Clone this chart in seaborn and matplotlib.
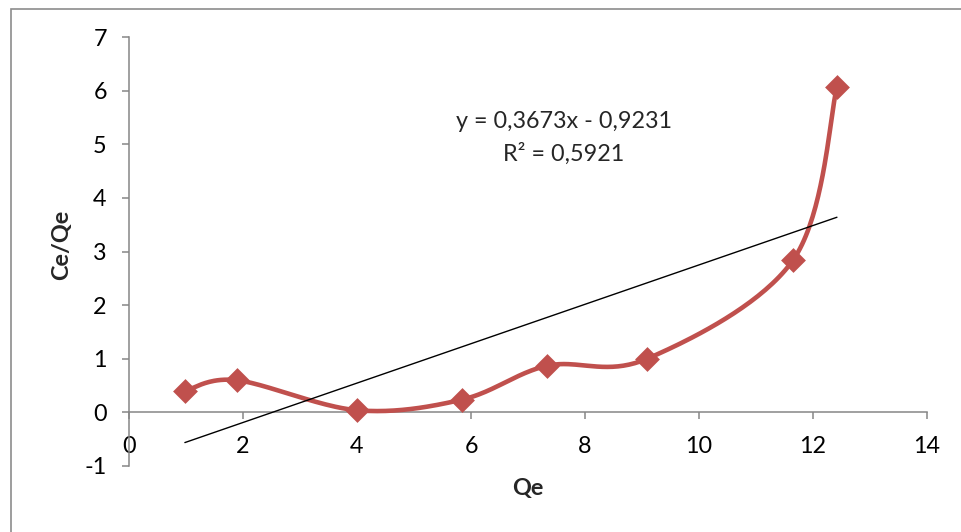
import numpy as np
import pandas as pd
import matplotlib
matplotlib.use("Agg")
import matplotlib.pyplot as plt
from matplotlib.patches import Rectangle
import seaborn as sns

# ---- data ----
qe = [0.98, 1.89, 4.00, 5.85, 7.34, 9.09, 11.65, 12.42]
ce_qe = [0.40, 0.60, 0.04, 0.24, 0.87, 1.00, 2.84, 6.07]
trend_slope = 0.3673
trend_intercept = -0.9231
r_squared = 0.5921
x_ticks = [0, 2, 4, 6, 8, 10, 12, 14]
y_ticks = [-1, 0, 1, 2, 3, 4, 5, 6, 7]

RED = "#C0504D"
AXIS_GREY = "#868686"

sns.set_theme(style="white")
plt.rcParams["font.family"] = ["Lato", "DejaVu Sans"]


def excel_smooth(xs, ys, n=40):
    """Excel-like smoothed line: cubic Bezier segments with Catmull-Rom tangents."""
    p = np.column_stack([xs, ys]).astype(float)
    ext = np.vstack([p[0], p, p[-1]])
    out = []
    t = np.linspace(0, 1, n)[:, None]
    for i in range(len(p) - 1):
        p0, p1 = ext[i + 1], ext[i + 2]
        c1 = p0 + (ext[i + 2] - ext[i]) / 6.0
        c2 = p1 - (ext[i + 3] - ext[i + 1]) / 6.0
        seg = ((1 - t) ** 3) * p0 + 3 * ((1 - t) ** 2) * t * c1 + 3 * (1 - t) * t ** 2 * c2 + t ** 3 * p1
        out.append(seg if i == 0 else seg[1:])
    s = np.vstack(out)
    return s[:, 0], s[:, 1]


W, H = 961, 532
fig = plt.figure(figsize=(W / 100, H / 100), dpi=100)
fig.patch.set_facecolor("white")
x0, x1 = 129, 927
ytop, ybot = 37, 466
ax = fig.add_axes([x0 / W, 1 - ybot / H, (x1 - x0) / W, (ybot - ytop) / H])
ax.set_facecolor("none")

df = pd.DataFrame({"Qe": qe, "CeQe": ce_qe})
sx, sy = excel_smooth(df["Qe"].values, df["CeQe"].values)
smooth = pd.DataFrame({"Qe": sx, "CeQe": sy})

# trend line over data range
tx = np.array([min(qe), max(qe)])
trend = pd.DataFrame({"Qe": tx, "CeQe": trend_slope * tx + trend_intercept})

sns.lineplot(data=smooth, x="Qe", y="CeQe", sort=False, ax=ax, color=RED,
             linewidth=3.3, estimator=None, zorder=3)
sns.lineplot(data=trend, x="Qe", y="CeQe", sort=False, ax=ax, color="black",
             linewidth=1.0, estimator=None, zorder=4)
sns.scatterplot(data=df, x="Qe", y="CeQe", ax=ax, marker="D", s=160,
                color=RED, edgecolor=RED, linewidth=0, zorder=5)

ax.set_xlim(0, 14)
ax.set_ylim(-1, 7)
ax.set_xticks(x_ticks)
ax.set_yticks(y_ticks)
ax.set_xticklabels([str(v) for v in x_ticks])
ax.set_yticklabels([str(v) for v in y_ticks])

for side in ["top", "right"]:
    ax.spines[side].set_visible(False)
ax.spines["bottom"].set_position(("data", 0))
for side in ["left", "bottom"]:
    ax.spines[side].set_color(AXIS_GREY)
    ax.spines[side].set_linewidth(1.1)

FS = 16.8
ax.tick_params(axis="y", direction="out", length=5, width=1.1, color=AXIS_GREY,
               pad=11, labelsize=FS, labelcolor="black", left=True)
ax.tick_params(axis="x", direction="out", length=5, width=1.1, color=AXIS_GREY,
               pad=12, labelsize=FS, labelcolor="black", bottom=True)

ax.set_xlabel("Qe", fontsize=FS, fontweight="bold", va="center")
ax.xaxis.set_label_coords((528 - x0) / (x1 - x0), (ybot - 488) / (ybot - ytop))
ax.set_ylabel("Ce/Qe", fontsize=FS, fontweight="bold", va="center", ha="center")
ax.yaxis.set_label_coords((62 - x0) / (x1 - x0), (ybot - 245) / (ybot - ytop))

eq1 = "y = {}x - {}".format(f"{trend_slope:.4f}".replace(".", ","),
                              f"{abs(trend_intercept):.4f}".replace(".", ","))
eq2 = "R² = {}".format(f"{r_squared:.4f}".replace(".", ","))
fig.text(564 / W, 1 - 121 / H, eq1, ha="center", va="center", fontsize=FS)
fig.text(564 / W, 1 - 154 / H, eq2, ha="center", va="center", fontsize=FS)

# outer chart border (partially visible in the reference)
fig.patches.append(Rectangle((11 / W, -0.5), 2.0, (1 - 9 / H) + 0.5,
                             transform=fig.transFigure, fill=False,
                             edgecolor="#8C8C8C", linewidth=1.2))

fig.savefig("out.png", dpi=100)
